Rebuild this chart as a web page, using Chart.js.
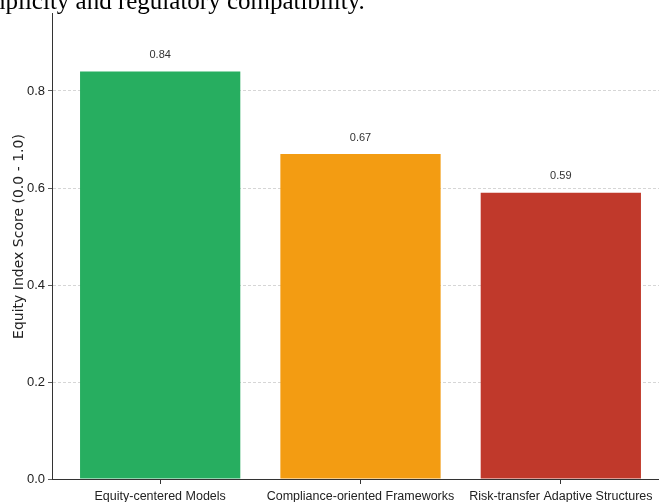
<!DOCTYPE html>
<html>
<head>
<meta charset="utf-8">
<script src="https://cdn.jsdelivr.net/npm/chart.js@4.4.1/dist/chart.umd.min.js"></script>
<style>
  html, body { margin: 0; padding: 0; width: 659px; height: 502px; overflow: hidden; background: #fff; }
  body { position: relative; }
  #wrap { position: absolute; left: 0; top: -20px; width: 669px; height: 539px; }
  #cap {
    position: absolute; left: -14px; top: -13px; height: 26px; line-height: 25px;
    font: 25px "Liberation Serif", "Times New Roman", serif; color: #000;
    white-space: nowrap; background: #fff; z-index: 2; padding-right: 4px;
  }
</style>
</head>
<body>
<div id="cap">mplicity and regulatory compatibility.</div>
<div id="wrap"><canvas id="chart" width="669" height="539"></canvas></div>
<script>
const categories = ["Equity-centered Models", "Compliance-oriented Frameworks", "Risk-transfer Adaptive Structures"];
const scores = [0.84, 0.67, 0.59];
const barColors = ["#27ae60", "#f39c12", "#c0392b"];
const yTicks = [0, 0.2, 0.4, 0.6, 0.8, 1.0];

const axisColor = "#333333";
const sans = "'Liberation Sans', Arial, sans-serif";

// etiquetas com o valor acima de cada barra
const valueLabels = {
  id: "valueLabels",
  afterDatasetsDraw(chart) {
    const ctx = chart.ctx;
    const meta = chart.getDatasetMeta(0);
    ctx.save();
    ctx.font = "11px " + sans;
    ctx.fillStyle = "#333";
    ctx.textAlign = "center";
    ctx.textBaseline = "bottom";
    meta.data.forEach((bar, i) => {
      ctx.fillText(scores[i].toFixed(2), bar.x, bar.y - 11);
    });
    ctx.restore();
  }
};

new Chart(document.getElementById("chart"), {
  type: "bar",
  data: {
    datasets: [{
      data: scores.map((v, i) => ({ x: i, y: v })),
      backgroundColor: barColors,
      borderWidth: 0,
      barPercentage: 0.8,
      categoryPercentage: 1.0
    }]
  },
  plugins: [valueLabels],
  options: {
    responsive: false,
    animation: false,
    layout: { padding: { top: 14, right: 0, left: 0, bottom: 0 } },
    plugins: { legend: { display: false }, tooltip: { enabled: false } },
    scales: {
      x: {
        type: "linear",
        offset: false,
        min: -0.54,
        max: 2.54,
        afterBuildTicks: s => { s.ticks = categories.map((c, i) => ({ value: i })); },
        afterFit: s => { s.height = 40; },
        ticks: {
          callback: v => categories[v],
          autoSkip: false, maxRotation: 0, padding: 5,
          color: "#222", font: { family: sans, size: 12.5 }
        },
        grid: { offset: false, drawOnChartArea: false, drawTicks: true, tickLength: 5, tickColor: axisColor },
        border: { display: true, color: axisColor, width: 1 }
      },
      y: {
        min: 0,
        max: 1.0,
        afterBuildTicks: s => { s.ticks = yTicks.map(v => ({ value: v })); },
        afterFit: s => { s.width = 52; },
        ticks: {
          callback: v => v.toFixed(1), padding: 3,
          color: "#222", font: { family: sans, size: 13 }
        },
        grid: {
          color: c => (c.tick && c.tick.value === 0) ? "rgba(0,0,0,0)" : "#cccccc",
          lineWidth: 0.8,
          drawTicks: true, tickLength: 4, tickColor: axisColor, tickBorderDash: []
        },
        border: { display: true, color: axisColor, width: 1, dash: [3, 2] },
        title: {
          display: true,
          text: "Equity Index Score (0.0 - 1.0)",
          color: "#222",
          padding: { top: 11, bottom: 0 },
          font: { family: "'DejaVu Sans', sans-serif", size: 14 }
        }
      }
    }
  }
});
</script>
</body>
</html>
